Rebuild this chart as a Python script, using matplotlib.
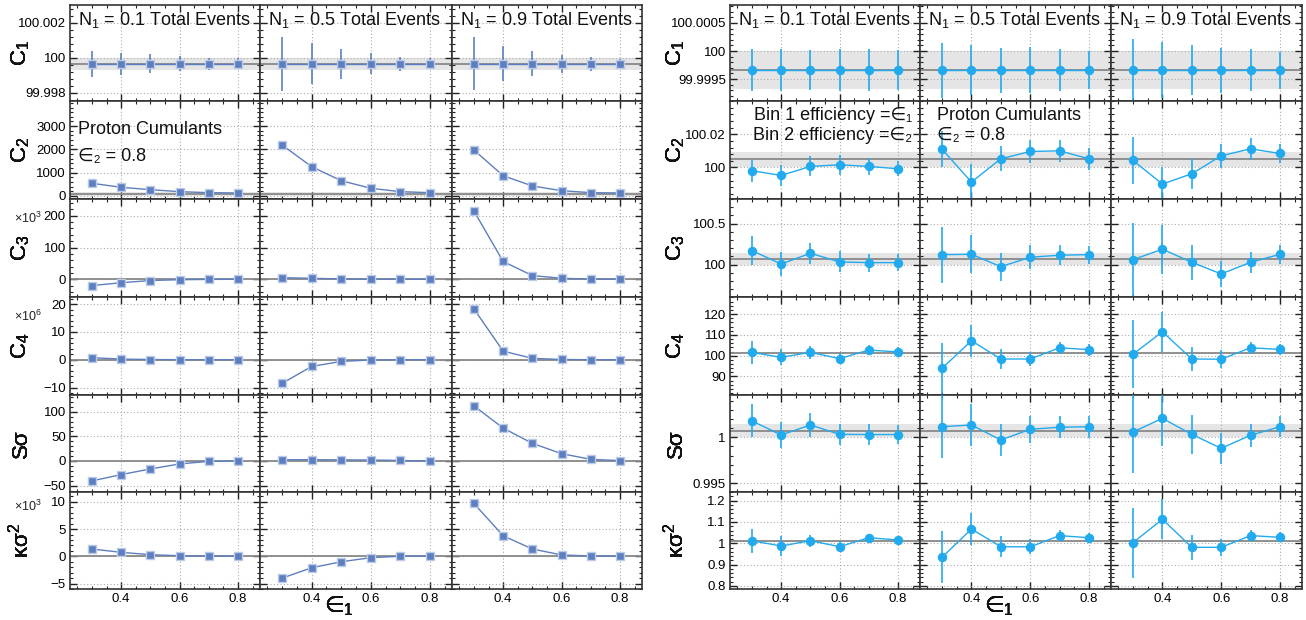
import numpy as np
import matplotlib
matplotlib.use("Agg")
import matplotlib.pyplot as plt
from matplotlib.ticker import AutoMinorLocator, MultipleLocator

plt.rcParams['font.family'] = ['Liberation Sans', 'DejaVu Sans']
plt.rcParams['mathtext.fontset'] = 'custom'
plt.rcParams['mathtext.rm'] = 'Liberation Sans'
plt.rcParams['mathtext.it'] = 'Liberation Sans:italic'
plt.rcParams['mathtext.bf'] = 'Liberation Sans:bold'

# --- data ---
eps1 = [0.3, 0.4, 0.5, 0.6, 0.7, 0.8]
columns = ["0.1", "0.5", "0.9"]
row_labels = ["C$_1$", "C$_2$", "C$_3$", "C$_4$", "S\u03c3", "\u03ba\u03c3$^2$"]

# left panel (no errors except C1), per row -> per column
left_c1 = [[99.99966] * 6, [99.99966] * 6, [99.99966] * 6]
left_c1_err = [[0.00074, 0.00063, 0.00054, 0.00043, 0.00035, 0.0003],
               [0.00154, 0.00116, 0.00086, 0.0006, 0.0004, 0.0003],
               [0.0015, 0.001, 0.0007, 0.0005, 0.0004, 0.00025]]
left_c2 = [[545, 373, 270, 185, 142, 128],
           [2190, 1257, 657, 330, 185, 142],
           [1974, 871, 429, 227, 142, 128]]
left_c3 = [[-20, -11, -4, -1.5, -0.5, 0],          # x10^3
           [5, 3, 1, 0.3, 0.1, 0],
           [215, 56, 11.5, 3, 0.5, 0.1]]
left_c4 = [[0.72, 0.25, 0.08, 0.02, 0, 0],          # x10^6
           [-8.5, -2.4, -0.6, -0.1, 0, 0],
           [18.3, 3.1, 0.5, 0.1, 0, 0]]
left_ss = [[-40.5, -27.7, -16.2, -6, -0.7, 0],
           [2.6, 2.6, 2.3, 2, 1, 0],
           [112, 66.8, 35.8, 14.8, 3.4, 0.7]]
left_ko = [[1.34, 0.73, 0.3, 0.1, 0.05, 0],         # x10^3
           [-4.0, -2.1, -1.0, -0.25, 0, 0],
           [9.7, 3.77, 1.34, 0.25, 0.05, 0]]

# right panel values and errors
right_c1 = [[99.99966] * 6, [99.99966] * 6, [99.99966] * 6]
right_c1_err = [[0.00038, 0.00037, 0.00036, 0.00038, 0.00037, 0.00036],
                [0.00049, 0.00045, 0.0004, 0.00041, 0.00037, 0.00034],
                [0.00055, 0.0005, 0.00045, 0.0004, 0.00038, 0.00033]]
right_c2 = [[99.998, 99.9952, 100.0006, 100.0016, 100.0006, 99.9992],
            [100.011, 99.9912, 100.0052, 100.0096, 100.010, 100.0052],
            [100.0042, 99.990, 99.9962, 100.007, 100.0112, 100.0084]]
right_c2_err = [[0.0066, 0.0065, 0.006, 0.006, 0.005, 0.0045],
                [0.011, 0.011, 0.0075, 0.007, 0.0067, 0.0065],
                [0.014, 0.0105, 0.009, 0.0073, 0.0067, 0.0058]]
right_c3 = [[100.171, 100.008, 100.139, 100.033, 100.025, 100.025],
            [100.122, 100.126, 99.976, 100.09, 100.115, 100.122],
            [100.061, 100.188, 100.029, 99.887, 100.029, 100.126]]
right_c3_err = [[0.18, 0.15, 0.126, 0.128, 0.11, 0.10],
                [0.34, 0.23, 0.17, 0.145, 0.12, 0.11],
                [0.45, 0.3, 0.21, 0.16, 0.13, 0.116]]
right_c4 = [[101.6, 99.2, 101.6, 98.6, 102.7, 101.8],
            [93.9, 107.2, 98.4, 98.4, 103.8, 102.9],
            [100.7, 111.5, 98.4, 98.3, 103.8, 103.0]]
right_c4_err = [[5.6, 3.9, 3.0, 2.6, 2.2, 2.2],
                [12.4, 7.6, 4.7, 3.6, 2.8, 2.9],
                [16.4, 9.6, 6.0, 4.2, 2.8, 2.6]]
right_ss = [[1.00178, 1.00025, 1.00134, 1.00032, 1.0003, 1.0003],
            [1.00115, 1.00134, 0.99971, 1.00087, 1.00109, 1.00115],
            [1.00058, 1.00206, 1.00032, 0.9988, 1.00022, 1.00115]]
right_ss_err = [[0.0018, 0.00145, 0.0013, 0.00118, 0.00112, 0.00105],
                [0.0034, 0.0023, 0.00174, 0.00145, 0.0012, 0.0012],
                [0.0045, 0.003, 0.0021, 0.00167, 0.00123, 0.00116]]
right_ko = [[1.012, 0.987, 1.012, 0.984, 1.026, 1.0155],
            [0.934, 1.067, 0.984, 0.983, 1.036, 1.026],
            [1.003, 1.113, 0.981, 0.981, 1.036, 1.028]]
right_ko_err = [[0.057, 0.045, 0.029, 0.026, 0.017, 0.021],
                [0.123, 0.073, 0.048, 0.035, 0.027, 0.023],
                [0.164, 0.094, 0.059, 0.041, 0.027, 0.023]]

# expected value lines and bands (line, band low, band high)
left_ref = [(99.99966, 99.99932, 100.0), (100, 20, 190), (0, None, None),
            (0, None, None), (0, None, None), (0, None, None)]
right_ref = [(99.99966, 99.99933, 100.0), (100.005, 100.0, 100.0093),
             (100.066, 99.99, 100.145), (101.2, 100.9, 101.5),
             (1.00065, 1.0, 1.00145), (1.0094, 1.007, 1.012)]

left_ylim = [(99.99754, 100.003), (-130, 4080), (-56, 253), (-12.7, 22.6), (-63, 134), (-6, 11.8)]
right_ylim = [(99.99911, 100.00082), (99.981, 100.040), (99.606, 100.80), (81.1, 128.2),
              (0.99405, 1.0046), (0.785, 1.241)]
left_ticks = [[99.998, 100, 100.002], [0, 1000, 2000, 3000], [0, 100, 200],
              [-10, 0, 10, 20], [-50, 0, 50, 100], [-5, 0, 5, 10]]
left_ticklabels = [["99.998", "100", "100.002"], ["0", "1000", "2000", "3000"], ["0", "100", "200"],
                   ["\u221210", "0", "10", "20"], ["\u221250", "0", "50", "100"], ["\u22125", "0", "5", "10"]]
right_ticks = [[99.9995, 100, 100.0005], [100, 100.02], [100, 100.5],
               [90, 100, 110, 120], [0.995, 1], [0.8, 0.9, 1, 1.1, 1.2]]
right_ticklabels = [["99.9995", "100", "100.0005"], ["100", "100.02"], ["100", "100.5"],
                    ["90", "100", "110", "120"], ["0.995", "1"], ["0.8", "0.9", "1", "1.1", "1.2"]]

left_vals = [left_c1, left_c2, left_c3, left_c4, left_ss, left_ko]
right_vals = [right_c1, right_c2, right_c3, right_c4, right_ss, right_ko]
right_errs = [right_c1_err, right_c2_err, right_c3_err, right_c4_err, right_ss_err, right_ko_err]

W, H = 1306, 620
fig = plt.figure(figsize=(W / 100, H / 100), dpi=100)

row_edges = [5, 101, 199, 297, 395, 492, 589]
left_cols = [70, 260, 452, 642]
right_cols = [730, 920, 1111, 1302]

sq_col = '#5d7fbf'
sq_edge = '#bccbe8'
ci_col = '#22aaee'
txt_col = '#111111'


def px_axes(x0, y0, x1, y1):
    return fig.add_axes([x0 / W, 1 - y1 / H, (x1 - x0) / W, (y1 - y0) / H])


def style_axes(ax, r, c, ylim, ticks, labels):
    ax.set_xlim(0.225, 0.875)
    ax.set_ylim(*ylim)
    ax.set_xticks([0.4, 0.6, 0.8])
    ax.xaxis.set_minor_locator(MultipleLocator(0.05))
    ax.set_yticks(ticks)
    ax.yaxis.set_minor_locator(AutoMinorLocator(5))
    if c == 0:
        ax.set_yticklabels(labels)
    else:
        ax.set_yticklabels([])
    if r == 5:
        ax.set_xticklabels(["0.4", "0.6", "0.8"])
    else:
        ax.set_xticklabels([])
    ax.tick_params(which='both', direction='in', top=True, right=True,
                   labelsize=9.5, color='#222222', pad=3)
    ax.tick_params(which='major', length=5, width=1.0)
    ax.tick_params(which='minor', length=2.5, width=0.8)
    ax.grid(True, which='major', color='#aaaaaa', linestyle=(0, (1, 2)), linewidth=0.8)
    ax.set_axisbelow(True)
    for s in ax.spines.values():
        s.set_color('#333333')
        s.set_linewidth(1.2)


for side in range(2):
    cols = left_cols if side == 0 else right_cols
    for r in range(6):
        for c in range(3):
            ax = px_axes(cols[c], row_edges[r], cols[c + 1], row_edges[r + 1])
            if side == 0:
                line, lo, hi = left_ref[r]
                style_axes(ax, r, c, left_ylim[r], left_ticks[r], left_ticklabels[r])
                yerr = left_c1_err[c] if r == 0 else None
                ax.errorbar(eps1, left_vals[r][c], yerr=yerr, fmt='-s', color=sq_col,
                            mfc=sq_col, mec=sq_edge, mew=1.0, ms=5.5, lw=1.0,
                            elinewidth=1.2, capsize=0, zorder=3)
            else:
                line, lo, hi = right_ref[r]
                style_axes(ax, r, c, right_ylim[r], right_ticks[r], right_ticklabels[r])
                ax.errorbar(eps1, right_vals[r][c], yerr=right_errs[r][c], fmt='-o', color=ci_col,
                            mfc=ci_col, mec=ci_col, ms=5.8, lw=1.0,
                            elinewidth=1.2, capsize=0, zorder=3)
            if lo is not None:
                ax.axhspan(lo, hi, color='#e5e5e5', zorder=0.5, lw=0)
            ax.axhline(line, color='#888888', lw=1.3, zorder=1)
            if r == 0:
                ax.text(0.04, 0.95, "N$_1$ = " + columns[c] + " Total Events", transform=ax.transAxes,
                        ha='left', va='top', fontsize=13, color=txt_col)

        # y labels
        xl = 21 if side == 0 else 676
        for r in range(6):
            yc = (row_edges[r] + row_edges[r + 1]) / 2
            fig.text(xl / W, 1 - yc / H, row_labels[r], rotation=90, ha='center', va='center',
                     fontsize=16, color=txt_col)
        # x label
        xx = 324 if side == 0 else 984
        fig.text(xx / W, 1 - 606 / H, "\u2208$_1$", ha='left', va='center', fontsize=16,
                 color=txt_col, family=['DejaVu Sans'])

# multipliers on left panel
for txt, yy in [("\u00d710$^3$", 218), ("\u00d710$^6$", 316), ("\u00d710$^3$", 506)]:
    fig.text(28 / W, 1 - yy / H, txt, ha='center', va='center', fontsize=9, color='#222222')

# annotations (plain text so the missing glyphs fall back to DejaVu Sans)
fig.text(78 / W, 1 - 130 / H, "Proton Cumulants", ha='left', va='center', fontsize=13, color=txt_col)
fig.text(78 / W, 1 - 157 / H, "\u2208\u2082 = 0.8", ha='left', va='center', fontsize=13, color=txt_col)
fig.text(912 / W, 1 - 116 / H, "Bin 1 efficiency =\u2208\u2081", ha='right', va='center',
         fontsize=13, color=txt_col)
fig.text(912 / W, 1 - 136 / H, "Bin 2 efficiency =\u2208\u2082", ha='right', va='center',
         fontsize=13, color=txt_col)
fig.text(937 / W, 1 - 116 / H, "Proton Cumulants", ha='left', va='center', fontsize=13, color=txt_col)
fig.text(937 / W, 1 - 136 / H, "\u2208\u2082 = 0.8", ha='left', va='center', fontsize=13, color=txt_col)

fig.savefig("out.png", dpi=100)
